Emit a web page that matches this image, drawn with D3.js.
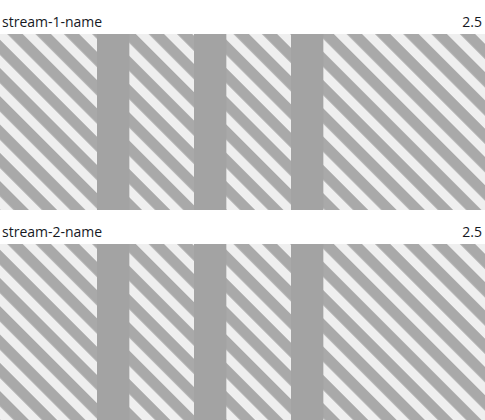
<!DOCTYPE html>
<html>
<head>
<meta charset="utf-8">
<script src="https://cdn.jsdelivr.net/npm/d3@7.9.0/dist/d3.min.js"></script>
<style>
  html, body { margin: 0; padding: 0; background: #fff; }
  svg { display: block; }
  .label { font-family: "Open Sans", sans-serif; font-size: 14px; fill: #16191f; }
</style>
</head>
<body>
<svg id="chart" width="485" height="420"></svg>
<script>
// data
const streams = ['stream-1-name', 'stream-2-name'];
const streamValues = [2.5, 2.5];
const barStarts = [3, 6, 9];   // time slots with data
const barLength = 1;
const timeDomain = [0, 15];

const width = 485;
const bandTop = 34;      // first band's top
const bandHeight = 176;
const bandGap = 210;     // distance between band tops

const svg = d3.select('#chart');

const x = d3.scaleLinear().domain(timeDomain).range([0, width]);
const y = d3.scaleBand()
  .domain(streams)
  .range([bandTop, bandTop + bandGap * streams.length])
  .paddingInner(0)
  .paddingOuter(0);

// striped "no data" background pattern
const defs = svg.append('defs');
const pattern = defs.append('pattern')
  .attr('id', 'stripes')
  .attr('patternUnits', 'userSpaceOnUse')
  .attr('width', 20)
  .attr('height', 20)
  .attr('patternTransform', 'rotate(45)');
pattern.append('rect')
  .attr('width', 20).attr('height', 20)
  .attr('fill', '#efefef');
pattern.append('rect')
  .attr('y', 4)
  .attr('width', 20).attr('height', 10.8)
  .attr('fill', '#a9a9a9');

streams.forEach((name, i) => {
  const g = svg.append('g')
    .attr('transform', `translate(0,${y(name)})`);

  g.append('text')
    .attr('class', 'label')
    .attr('x', 2)
    .attr('y', -7)
    .text(name);

  g.append('text')
    .attr('class', 'label')
    .attr('x', width - 3)
    .attr('y', -7)
    .attr('text-anchor', 'end')
    .text(streamValues[i]);

  g.append('rect')
    .attr('x', x(timeDomain[0]))
    .attr('width', x(timeDomain[1]) - x(timeDomain[0]))
    .attr('height', bandHeight)
    .attr('fill', 'url(#stripes)');

  g.selectAll('rect.bar')
    .data(barStarts)
    .join('rect')
    .attr('class', 'bar')
    .attr('x', (d) => x(d))
    .attr('width', (d) => x(d + barLength) - x(d))
    .attr('height', bandHeight)
    .attr('fill', '#a3a3a3');
});
</script>
</body>
</html>
